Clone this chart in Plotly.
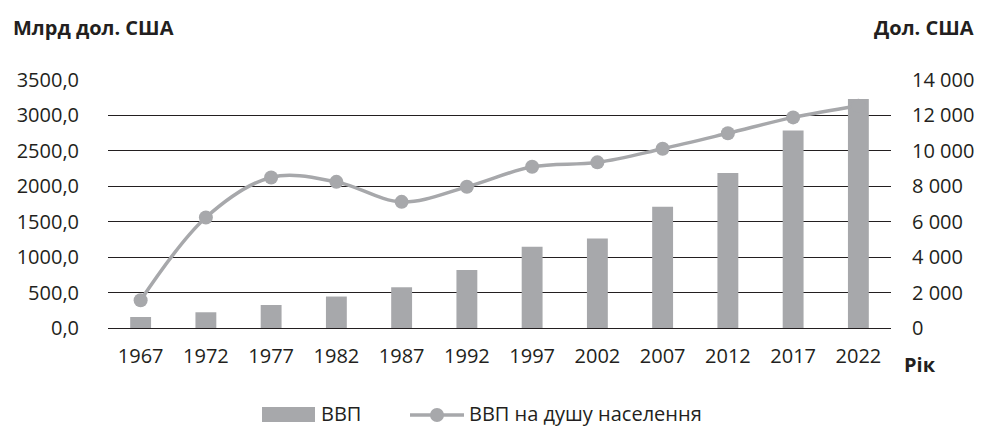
import plotly.graph_objects as go

years = ['1967', '1972', '1977', '1982', '1987', '1992', '1997', '2002', '2007', '2012', '2017', '2022']
gdp_bln = [155, 222, 325, 444, 575, 820, 1145, 1263, 1710, 2186, 2789, 3232]
gdp_per_capita = [1565, 6240, 8500, 8250, 7120, 7970, 9100, 9350, 10120, 10990, 11890, 12550]

left_ticks = [0, 500, 1000, 1500, 2000, 2500, 3000, 3500]
right_ticks = [0, 2000, 4000, 6000, 8000, 10000, 12000, 14000]

GREY = '#a7a8ab'
TEXT = '#231f20'
FONT = 'Open Sans'

# plot area in pixels, used to place the texts around it
L, R, T, B = 108, 891, 80, 328
W, H = R - L, B - T


def px(x):
    return (x - L) / W


def py(y):
    return (B - y) / H


fig = go.Figure()

fig.add_trace(go.Bar(
    x=years,
    y=gdp_bln,
    name='ВВП',
    marker_color=GREY,
    marker_line_width=0,
    showlegend=False
))

fig.add_trace(go.Scatter(
    x=years,
    y=gdp_per_capita,
    name='ВВП на душу населення',
    mode='lines+markers',
    line=dict(color=GREY, width=3.5, shape='spline', smoothing=1),
    marker=dict(color=GREY, size=14),
    yaxis='y2',
    showlegend=False
))

# legend drawn by hand to get the wide swatches
shapes = [
    dict(type='rect', xref='paper', yref='paper', x0=px(262), x1=px(315), y0=py(422), y1=py(407),
         fillcolor=GREY, line_width=0),
    dict(type='line', xref='paper', yref='paper', x0=px(410), x1=px(464), y0=py(415), y1=py(415),
         line=dict(color=GREY, width=3.5)),
    dict(type='circle', xref='paper', yref='paper', x0=px(430), x1=px(444), y0=py(422), y1=py(408),
         fillcolor=GREY, line_width=0),
]

annotations = [
    dict(text='<b>Млрд дол. США</b>', x=px(11), y=py(28), xanchor='left', yanchor='middle'),
    dict(text='<b>Дол. США</b>', x=px(976), y=py(28), xanchor='right', yanchor='middle'),
    dict(text='<b>Рік</b>', x=px(902), y=py(364), xanchor='left', yanchor='middle'),
    dict(text='ВВП', x=px(319), y=py(413), xanchor='left', yanchor='middle'),
    dict(text='ВВП на душу населення', x=px(467), y=py(413), xanchor='left', yanchor='middle'),
]
for a in annotations:
    a.update(xref='paper', yref='paper', showarrow=False, font=dict(family=FONT, size=20, color=TEXT))

fig.update_layout(
    width=983,
    height=428,
    margin=dict(l=L, r=983 - R, t=T, b=428 - B, autoexpand=False),
    plot_bgcolor='white',
    paper_bgcolor='white',
    separators=', ',
    font=dict(family=FONT, size=20, color=TEXT),
    bargap=0.68,
    showlegend=False,
    shapes=shapes,
    annotations=annotations,
    xaxis=dict(
        type='category',
        range=[-0.5, len(years) - 0.5],
        automargin=False,
        showgrid=False,
        showline=False,
        ticks='',
        ticklabelstandoff=14,
        tickfont=dict(size=20, color=TEXT)
    ),
    yaxis=dict(
        range=[0, 3500],
        automargin=False,
        tickvals=left_ticks,
        tickformat='.1f',
        showgrid=True,
        gridcolor='#231f20',
        gridwidth=1.3,
        zeroline=True,
        zerolinecolor='#231f20',
        zerolinewidth=1.3,
        ticks='',
        ticklabelstandoff=28,
        tickfont=dict(size=20, color=TEXT)
    ),
    yaxis2=dict(
        range=[0, 14000],
        automargin=False,
        tickvals=right_ticks,
        tickformat=',d',
        overlaying='y',
        side='right',
        showgrid=False,
        zeroline=False,
        ticks='',
        ticklabelstandoff=20,
        tickfont=dict(size=20, color=TEXT)
    )
)

# the page body has a default 8px margin that would shift and clip the chart
fig.write_html("out.html", config={'displayModeBar': False},
               post_script="document.body.style.margin = '0';")
